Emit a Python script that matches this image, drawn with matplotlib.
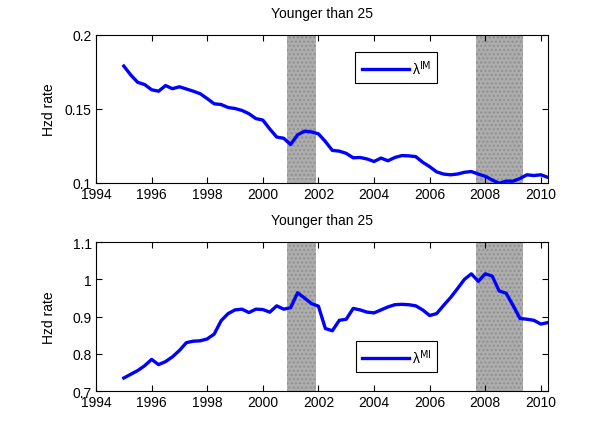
import numpy as np
import matplotlib
matplotlib.use("Agg")
from matplotlib import pyplot as plt

plt.rcParams['font.family'] = ['Liberation Sans', 'DejaVu Sans']
plt.rcParams['font.size'] = 10

# quarterly dates 1995Q1 .. 2010Q2
quarters = np.arange(1995.0, 2010.26, 0.25)

hzd_im = [0.179, 0.173, 0.168, 0.1665, 0.163, 0.162, 0.1658, 0.1637,
          0.165, 0.1635, 0.162, 0.1603, 0.157, 0.1535, 0.153, 0.151,
          0.1503, 0.149, 0.1468, 0.1435, 0.1425, 0.1365, 0.131, 0.1302,
          0.126, 0.1325, 0.135, 0.1345, 0.1332, 0.128, 0.122, 0.1215,
          0.120, 0.117, 0.1172, 0.1162, 0.1145, 0.1168, 0.115, 0.1172,
          0.1185, 0.1183, 0.1178, 0.114, 0.111, 0.1075, 0.106, 0.1055,
          0.106, 0.1072, 0.1077, 0.106, 0.1045, 0.102, 0.0998, 0.1012,
          0.1012, 0.103, 0.1055, 0.105, 0.1055, 0.1038]

hzd_mi = [0.735, 0.745, 0.755, 0.768, 0.785, 0.771, 0.779, 0.792,
          0.809, 0.830, 0.834, 0.835, 0.840, 0.853, 0.889, 0.908,
          0.918, 0.920, 0.911, 0.920, 0.919, 0.912, 0.929, 0.920,
          0.924, 0.964, 0.950, 0.935, 0.928, 0.868, 0.862, 0.890,
          0.893, 0.922, 0.918, 0.912, 0.910, 0.918, 0.926, 0.932,
          0.933, 0.932, 0.929, 0.918, 0.903, 0.908, 0.930, 0.951,
          0.975, 1.000, 1.015, 0.995, 1.015, 1.009, 0.969, 0.963,
          0.930, 0.895, 0.893, 0.890, 0.880, 0.884]

recessions = [(2000.87, 2001.9), (2007.65, 2009.37)]
xticks = [1994, 1996, 1998, 2000, 2002, 2004, 2006, 2008, 2010]

fig = plt.figure(figsize=(6, 4.39), dpi=100)
ax1 = fig.add_axes([0.16, 0.581, 0.753, 0.337])
ax2 = fig.add_axes([0.16, 0.107, 0.753, 0.339])

panels = [
    (ax1, hzd_im, r'λ$^{\mathrm{IM}}$', (0.1, 0.2), [0.1, 0.15, 0.2], ['0.1', '0.15', '0.2'], 0.78),
    (ax2, hzd_mi, r'λ$^{\mathrm{MI}}$', (0.7, 1.1), [0.7, 0.8, 0.9, 1.0, 1.1], ['0.7', '0.8', '0.9', '1', '1.1'], 0.23),
]

for ax, vals, lab, ylim, yt, ytl, ly in panels:
    for a, b in recessions:
        ax.axvspan(a, b, facecolor='#adadad', edgecolor='#8f8f8f', hatch='....', lw=0, zorder=1)
    ax.plot(quarters, vals, color='#0000ff', lw=2.4, label=lab, zorder=3)
    ax.set_xlim(1994, 2010.25)
    ax.set_ylim(*ylim)
    ax.set_xticks(xticks)
    ax.set_yticks(yt)
    ax.set_yticklabels(ytl)
    ax.tick_params(direction='in', top=True, right=True, length=4, labelsize=10, pad=3)
    ax.set_title('Younger than 25', fontsize=10, pad=13)
    ax.set_ylabel('Hzd rate', fontsize=10)
    ax.yaxis.set_label_coords(-0.088, 0.5)
    leg = ax.legend(loc='center', bbox_to_anchor=(0.665, ly), handlelength=3.4,
                    handletextpad=0.2, fancybox=False, edgecolor='black',
                    framealpha=1, fontsize=10, borderpad=0.45)
    leg.get_frame().set_linewidth(0.8)

fig.savefig('out.png', dpi=100)
